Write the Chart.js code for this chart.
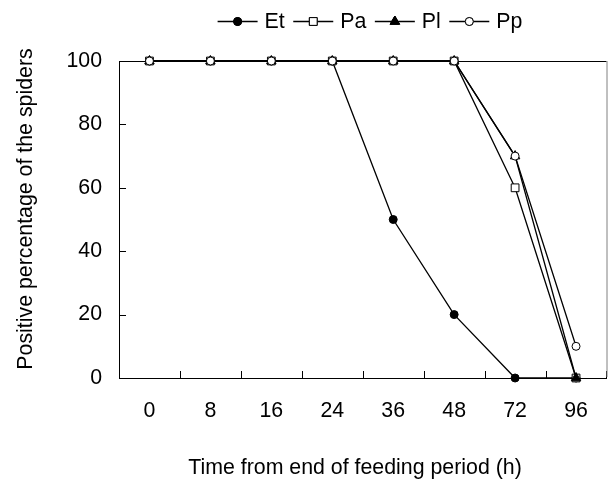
<!DOCTYPE html>
<html>
<head>
<meta charset="utf-8">
<script src="https://cdn.jsdelivr.net/npm/chart.js@4"></script>
<style>
  html, body { margin: 0; padding: 0; background: #fff; }
  #wrap { width: 613px; height: 479px; }
</style>
</head>
<body>
<div id="wrap"><canvas id="chart" width="613" height="479"></canvas></div>
<script>
// data
const hours = ['0', '8', '16', '24', '36', '48', '72', '96'];
const et = [100, 100, 100, 100, 50, 20, 0, 0];
const pa = [100, 100, 100, 100, 100, 100, 60, 0];
const pl = [100, 100, 100, 100, 100, 100, 70, 0];
const pp = [100, 100, 100, 100, 100, 100, 70, 10];
const yTicks = [0, 20, 40, 60, 80, 100];
const xTitle = 'Time from end of feeding period (h)';
const yTitle = 'Positive percentage of the spiders';

const FONT = "'Liberation Sans', Arial, sans-serif";
const FSIZE = 21.33;

const series = [
  { label: 'Et', data: et, style: 'circle', fill: '#000', r: 4, order: 3 },
  { label: 'Pa', data: pa, style: 'rect', fill: '#fff', r: 5.5, order: 2 },
  { label: 'Pl', data: pl, style: 'triangle', fill: '#000', r: 5.5, order: 1 },
  { label: 'Pp', data: pp, style: 'circle', fill: '#fff', r: 4, order: 0 }
];

// frame: top/right border and inward tick marks
const framePlugin = {
  id: 'frame',
  beforeDatasetsDraw(chart) {
    const { ctx, chartArea: a, scales: { x, y } } = chart;
    ctx.save();
    ctx.lineWidth = 1;
    ctx.strokeStyle = '#000';
    ctx.beginPath();
    ctx.moveTo(a.left, a.top + 0.5);
    ctx.lineTo(a.right, a.top + 0.5);
    yTicks.forEach(v => {
      if (v === 0) return;
      const py = Math.round(y.getPixelForValue(v)) + 0.5;
      ctx.moveTo(a.left, py);
      ctx.lineTo(a.left + 7, py);
    });
    for (let i = 1; i <= hours.length; i++) {
      let px = i < hours.length
        ? (x.getPixelForValue(i - 1) + x.getPixelForValue(i)) / 2
        : a.right - 1;
      px = Math.round(px) + 0.5;
      ctx.moveTo(px, a.bottom);
      ctx.lineTo(px, a.bottom - 7);
    }
    ctx.stroke();
    ctx.strokeStyle = '#808080';
    ctx.beginPath();
    ctx.moveTo(a.right + 0.5, a.top);
    ctx.lineTo(a.right + 0.5, a.bottom - 1);
    ctx.stroke();
    ctx.restore();
  }
};

function marker(ctx, s, cx, cy) {
  Chart.helpers.drawPoint(ctx, { pointStyle: s.style, radius: s.r, rotation: 0, borderWidth: 1 }, cx, cy);
  ctx.fill();
  ctx.stroke();
}

// legend (line-marker-line + label) and axis titles
const textPlugin = {
  id: 'texts',
  afterDraw(chart) {
    const { ctx, chartArea: a } = chart;
    ctx.save();
    ctx.font = FSIZE + 'px ' + FONT;
    ctx.textBaseline = 'middle';
    ctx.textAlign = 'left';
    const lineW = 40, gapText = 7, gapItem = 8.5;
    const widths = series.map(s => ctx.measureText(s.label).width);
    let total = 0;
    widths.forEach((w, i) => { total += lineW + gapText + w + (i < widths.length - 1 ? gapItem : 0); });
    let xPos = 370 - total / 2;
    const cy = 21.5;
    series.forEach((s, i) => {
      ctx.strokeStyle = '#000';
      ctx.lineWidth = 1.3;
      ctx.beginPath();
      ctx.moveTo(xPos, cy);
      ctx.lineTo(xPos + lineW, cy);
      ctx.stroke();
      ctx.lineWidth = 1;
      ctx.fillStyle = s.fill;
      marker(ctx, s, xPos + lineW / 2, cy);
      ctx.fillStyle = '#000';
      ctx.fillText(s.label, xPos + lineW + gapText, cy + 1);
      xPos += lineW + gapText + widths[i] + gapItem;
    });

    ctx.fillStyle = '#000';
    ctx.textAlign = 'center';
    ctx.fillText(xTitle, 355, 468);
    ctx.translate(26, 209);
    ctx.rotate(-Math.PI / 2);
    ctx.fillText(yTitle, 0, 0);
    ctx.restore();
  }
};

new Chart(document.getElementById('chart').getContext('2d'), {
  type: 'line',
  data: {
    labels: hours,
    datasets: series.map(s => ({
      label: s.label,
      data: s.data,
      order: s.order,
      borderColor: '#000',
      borderWidth: 1.3,
      pointStyle: s.style,
      pointRadius: s.r,
      pointBackgroundColor: s.fill,
      pointBorderColor: '#000',
      pointBorderWidth: 1,
      tension: 0,
      clip: false
    }))
  },
  options: {
    responsive: false,
    animation: false,
    layout: { padding: { left: 0, top: 61, right: 2, bottom: 0 } },
    plugins: { legend: { display: false }, tooltip: { enabled: false } },
    scales: {
      x: {
        type: 'category',
        offset: true,
        grid: { display: false, drawTicks: false },
        border: { display: true, color: '#000', width: 1 },
        ticks: { color: '#000', padding: 20, font: { family: FONT, size: FSIZE }, maxRotation: 0 },
        afterFit(s) { s.height = 101; }
      },
      y: {
        min: 0,
        max: 100,
        grid: { display: false, drawTicks: false },
        border: { display: true, color: '#000', width: 1 },
        afterBuildTicks(s) { s.ticks = yTicks.map(v => ({ value: v })); },
        ticks: { color: '#000', padding: 17, font: { family: FONT, size: FSIZE } },
        afterFit(s) { s.width = 119; }
      }
    }
  },
  plugins: [framePlugin, textPlugin]
});
</script>
</body>
</html>
